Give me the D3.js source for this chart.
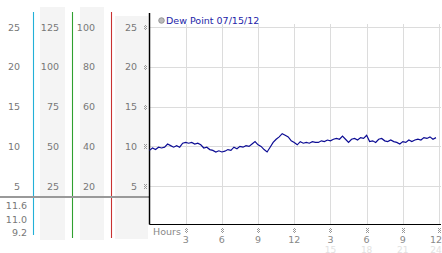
<!DOCTYPE html>
<html>
<head>
<meta charset="utf-8">
<script src="https://cdn.jsdelivr.net/npm/d3@7"></script>
<style>
  html, body { margin: 0; padding: 0; background: #fff; }
  svg { display: block; font-family: "DejaVu Sans", Verdana, sans-serif; }
</style>
</head>
<body>
<div id="chart"></div>
<script>
// ===== DATA =====
const hours = [
  0, 0.25, 0.5, 0.75, 1, 1.25, 1.5, 1.75, 2, 2.25, 2.5, 2.75,
  3, 3.25, 3.5, 3.75, 4, 4.25, 4.5, 4.75, 5, 5.25, 5.5, 5.75,
  6, 6.25, 6.5, 6.75, 7, 7.25, 7.5, 7.75, 8, 8.25, 8.5, 8.75,
  9, 9.25, 9.5, 9.75, 10, 10.25, 10.5, 10.75, 11, 11.25, 11.5, 11.75,
  12, 12.25, 12.5, 12.75, 13, 13.25, 13.5, 13.75, 14, 14.25, 14.5, 14.75,
  15, 15.25, 15.5, 15.75, 16, 16.25, 16.5, 16.75, 17, 17.25, 17.5, 17.75,
  18, 18.25, 18.5, 18.75, 19, 19.25, 19.5, 19.75, 20, 20.25, 20.5, 20.75,
  21, 21.25, 21.5, 21.75, 22, 22.25, 22.5, 22.75, 23, 23.25, 23.5, 23.75
];
const dewPoint = [
  9.5, 9.8, 9.6, 9.9, 9.8, 9.9, 10.3, 10.1, 9.9, 10.1, 9.9, 10.4,
  10.5, 10.4, 10.5, 10.3, 10.4, 10.2, 9.8, 9.9, 9.6, 9.5, 9.3, 9.45,
  9.3, 9.4, 9.6, 9.5, 9.9, 9.7, 10.0, 9.9, 10.1, 10.0, 10.3, 10.6,
  10.2, 10.0, 9.6, 9.3, 9.9, 10.5, 10.9, 11.2, 11.6, 11.4, 11.2, 10.7,
  10.5, 10.2, 10.6, 10.4, 10.5, 10.4, 10.6, 10.5, 10.5, 10.7, 10.6, 10.8,
  10.7, 10.9, 11.0, 10.9, 11.3, 10.9, 10.5, 10.9, 11.0, 10.8, 11.1, 11.0,
  11.4, 10.6, 10.7, 10.5, 10.9, 11.0, 10.7, 10.6, 10.8, 10.6, 10.5, 10.3,
  10.6, 10.5, 10.8, 10.6, 10.8, 10.9, 10.8, 11.1, 11.0, 11.2, 10.9, 11.1
];

const yTicks = [25, 20, 15, 10, 5];
const hourTicks = [3, 6, 9, 12, 15, 18, 21, 24];
const hourLabels = ['3', '6', '9', '12', '3', '6', '9', '12'];
const hourLabels2 = ['', '', '', '', '15', '18', '21', '24'];

// left side scale columns
const colCelsius = [25, 20, 15, 10, 5];
const colSecond = [125, 100, 75, 50, 25];
const colThird = [100, 80, 60, 40, 20];
const colFourth = [25, 20, 15, 10, 5];
const summaryValues = ['11.6', '11.0', '9.2'];

const legendLabel = 'Dew Point 07/15/12';

// ===== LAYOUT =====
const W = 442, H = 253;
const plot = { left: 149.5, right: 439, top: 27, bottom: 224 };

const svg = d3.select('#chart').append('svg')
  .attr('width', W)
  .attr('height', H);

const defs = svg.append('defs');
// tiny checker used for the tick markers
const chk = defs.append('pattern')
  .attr('id', 'chk')
  .attr('width', 2).attr('height', 2)
  .attr('patternUnits', 'userSpaceOnUse');
chk.append('rect').attr('x', 0).attr('y', 0).attr('width', 1).attr('height', 1).attr('fill', '#999');
chk.append('rect').attr('x', 1).attr('y', 1).attr('width', 1).attr('height', 1).attr('fill', '#999');

const x = d3.scaleLinear().domain([0, 24]).range([plot.left, plot.right]);
const y = d3.scaleLinear().domain([0, 25]).range([226, 27]);

// ===== LEFT PANEL =====
const shades = [
  { x0: 40, x1: 65, top: 7, bottom: 240 },
  { x0: 80, x1: 104, top: 7, bottom: 240 },
  { x0: 115, x1: 148, top: 16, bottom: 239 }
];
svg.selectAll('rect.shade').data(shades).enter().append('rect')
  .attr('class', 'shade')
  .attr('x', d => d.x0)
  .attr('y', d => d.top)
  .attr('width', d => d.x1 - d.x0)
  .attr('height', d => d.bottom - d.top)
  .attr('fill', '#f4f4f4');

const dividers = [
  { x: 33.5, color: '#22b0d8', bottom: 235 },
  { x: 72.5, color: '#30a030', bottom: 238 },
  { x: 111.5, color: '#c83232', bottom: 238 }
];
svg.selectAll('line.divider').data(dividers).enter().append('line')
  .attr('x1', d => d.x).attr('x2', d => d.x)
  .attr('y1', 12).attr('y2', d => d.bottom)
  .attr('stroke', d => d.color)
  .attr('stroke-width', 1.1);

const columns = [
  { values: colCelsius, xr: 20 },
  { values: colSecond, xr: 59 },
  { values: colThird, xr: 95 },
  { values: colFourth, xr: 137 }
];
columns.forEach(col => {
  svg.append('g').selectAll('text').data(col.values).enter().append('text')
    .attr('x', col.xr)
    .attr('y', (d, i) => y(yTicks[i]) + 3.5)
    .attr('text-anchor', 'end')
    .attr('font-size', 9.5)
    .attr('fill', '#777')
    .text(d => d);
});

// separator line across left panel
svg.append('line')
  .attr('x1', 0).attr('x2', plot.left)
  .attr('y1', 197).attr('y2', 197)
  .attr('stroke', '#999')
  .attr('stroke-width', 2);

svg.append('g').selectAll('text').data(summaryValues).enter().append('text')
  .attr('x', 27)
  .attr('y', (d, i) => 209 + i * 13.5)
  .attr('text-anchor', 'end')
  .attr('font-size', 9.5)
  .attr('fill', '#777')
  .text(d => d);

// ===== GRID =====
const grid = svg.append('g');
grid.selectAll('line.h').data(yTicks).enter().append('line')
  .attr('x1', plot.left).attr('x2', 441)
  .attr('y1', d => Math.round(y(d)) + 0.5).attr('y2', d => Math.round(y(d)) + 0.5)
  .attr('stroke', '#dcdcdc');
grid.selectAll('line.v').data(hourTicks).enter().append('line')
  .attr('x1', d => Math.round(x(d)) + 0.5).attr('x2', d => Math.round(x(d)) + 0.5)
  .attr('y1', 24).attr('y2', plot.bottom)
  .attr('stroke', '#dcdcdc');

// ===== AXES =====
svg.append('line')
  .attr('x1', plot.left).attr('x2', plot.left)
  .attr('y1', 13).attr('y2', plot.bottom + 0.5)
  .attr('stroke', '#000').attr('stroke-width', 1.5);
svg.append('line')
  .attr('x1', plot.left).attr('x2', 441)
  .attr('y1', plot.bottom + 0.5).attr('y2', plot.bottom + 0.5)
  .attr('stroke', '#000').attr('stroke-width', 1.2);

// little checker tick marks
svg.append('g').selectAll('rect').data(yTicks).enter().append('rect')
  .attr('x', 144)
  .attr('y', d => Math.round(y(d)) - 2)
  .attr('width', 3).attr('height', 5)
  .attr('fill', 'url(#chk)');
svg.append('g').selectAll('rect').data(hourTicks).enter().append('rect')
  .attr('x', d => Math.round(x(d)) - 1)
  .attr('y', 228)
  .attr('width', 3).attr('height', 5)
  .attr('fill', 'url(#chk)');

// hour labels
svg.append('text')
  .attr('x', 153).attr('y', 235)
  .attr('font-size', 9.5)
  .attr('fill', '#888')
  .text('Hours');
const lblX = d => Math.min(x(d), 436);
svg.append('g').selectAll('text').data(hourTicks).enter().append('text')
  .attr('x', lblX)
  .attr('y', 242.5)
  .attr('text-anchor', 'middle')
  .attr('font-size', 9.5)
  .attr('fill', '#888')
  .text((d, i) => hourLabels[i]);
svg.append('g').selectAll('text').data(hourTicks).enter().append('text')
  .attr('x', lblX)
  .attr('y', 252.5)
  .attr('text-anchor', 'middle')
  .attr('font-size', 9)
  .attr('fill', '#e2e2e2')
  .text((d, i) => hourLabels2[i]);

// ===== SERIES =====
const line = d3.line()
  .x((d, i) => x(hours[i]))
  .y(d => y(d));
svg.append('path')
  .datum(dewPoint)
  .attr('d', line)
  .attr('fill', 'none')
  .attr('stroke', '#0c0c94')
  .attr('stroke-width', 1.2);

// ===== LEGEND =====
svg.append('circle')
  .attr('cx', 161.5).attr('cy', 20.5).attr('r', 2.8)
  .attr('fill', '#bbb').attr('stroke', '#888').attr('stroke-width', 0.8);
svg.append('text')
  .attr('x', 166).attr('y', 24)
  .attr('font-size', 9.5)
  .attr('fill', '#2424a8')
  .text(legendLabel);
</script>
</body>
</html>
